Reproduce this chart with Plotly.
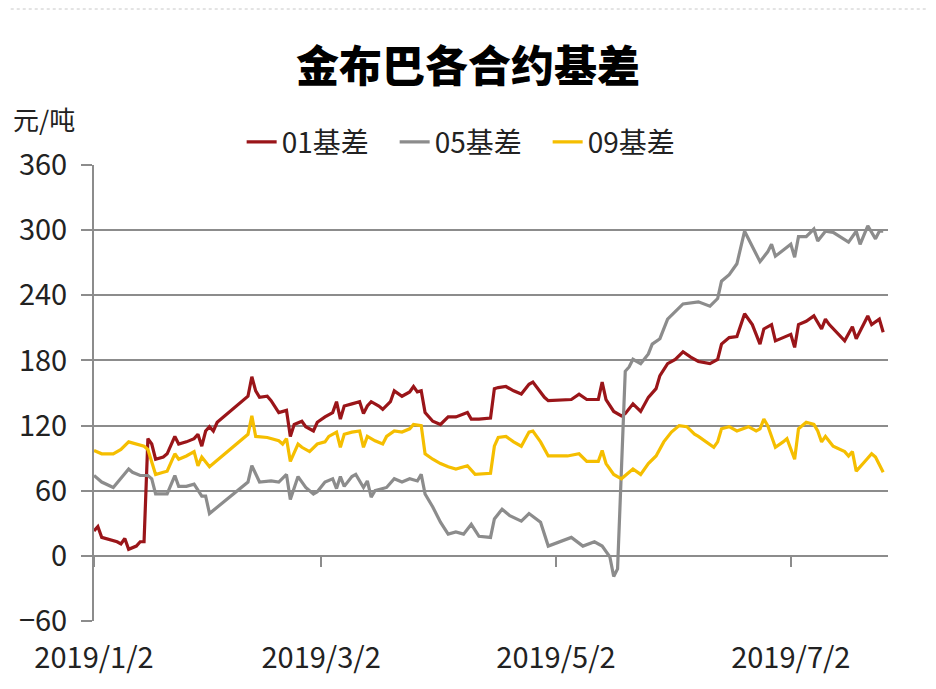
import plotly.graph_objects as go

TITLE = "金布巴各合约基差"
UNIT = "元/吨"
NAMES = ["01基差", "05基差", "09基差"]
COLORS = ["#9A1519", "#8C8C8C", "#F5BE00"]

DATES_01 = ["2019-01-02","2019-01-03","2019-01-04","2019-01-07","2019-01-08","2019-01-09","2019-01-10","2019-01-11",
            "2019-01-13","2019-01-14","2019-01-15","2019-01-16","2019-01-17","2019-01-18","2019-01-20","2019-01-21",
            "2019-01-23","2019-01-24","2019-01-26","2019-01-28","2019-01-29","2019-01-30","2019-01-31","2019-02-01",
            "2019-02-02","2019-02-03","2019-02-11","2019-02-12","2019-02-13","2019-02-14","2019-02-16","2019-02-17",
            "2019-02-19","2019-02-21","2019-02-22","2019-02-23","2019-02-25","2019-02-26","2019-02-28","2019-03-01",
            "2019-03-03","2019-03-05","2019-03-06","2019-03-07","2019-03-08","2019-03-10","2019-03-12","2019-03-13",
            "2019-03-14","2019-03-15","2019-03-17","2019-03-18","2019-03-20","2019-03-21","2019-03-23","2019-03-25",
            "2019-03-26","2019-03-27","2019-03-28","2019-03-29","2019-03-31","2019-04-02","2019-04-04","2019-04-06",
            "2019-04-09","2019-04-10","2019-04-12","2019-04-15","2019-04-16","2019-04-17","2019-04-19","2019-04-21",
            "2019-04-23","2019-04-25","2019-04-26","2019-04-29","2019-04-30","2019-05-06","2019-05-08","2019-05-10",
            "2019-05-13","2019-05-14","2019-05-15","2019-05-17","2019-05-19","2019-05-20","2019-05-22","2019-05-24",
            "2019-05-26","2019-05-28","2019-05-29","2019-05-31","2019-06-02","2019-06-04","2019-06-06","2019-06-08",
            "2019-06-11","2019-06-13","2019-06-14","2019-06-16","2019-06-18","2019-06-20","2019-06-22","2019-06-24",
            "2019-06-25","2019-06-27","2019-06-28","2019-06-30","2019-07-02","2019-07-03","2019-07-04","2019-07-06",
            "2019-07-08","2019-07-10","2019-07-11","2019-07-12","2019-07-14","2019-07-16","2019-07-18","2019-07-19",
            "2019-07-22","2019-07-23","2019-07-25","2019-07-26"]
BASIS_01 = [23,27,17,14,13,11,16,6,
            9,13,13,108,103,89,91,94,
            110,103,105,108,112,101,115,119,
            115,123,147,165,152,146,147,143,
            132,134,110,121,124,119,115,123,
            128,132,142,126,138,140,142,131,
            138,142,138,135,142,152,147,151,
            156,151,152,132,124,121,128,128,
            132,126,126,127,154,155,156,152,
            149,158,160,146,143,144,149,144,
            144,160,144,133,129,131,140,133,
            146,154,166,177,181,188,183,179,
            177,181,195,201,202,223,213,195,
            209,213,198,201,204,192,213,216,
            221,209,218,213,206,198,211,200,
            221,213,218,206]

DATES_05 = ["2019-01-02","2019-01-04","2019-01-07","2019-01-09","2019-01-11","2019-01-12","2019-01-14","2019-01-16",
            "2019-01-17","2019-01-18","2019-01-20","2019-01-21","2019-01-23","2019-01-24","2019-01-26","2019-01-28",
            "2019-01-30","2019-01-31","2019-02-01","2019-02-11","2019-02-12","2019-02-14","2019-02-17","2019-02-19",
            "2019-02-21","2019-02-22","2019-02-24","2019-02-26","2019-02-28","2019-03-01","2019-03-03","2019-03-05",
            "2019-03-06","2019-03-07","2019-03-08","2019-03-10","2019-03-11","2019-03-13","2019-03-14","2019-03-15",
            "2019-03-16","2019-03-18","2019-03-19","2019-03-21","2019-03-23","2019-03-25","2019-03-27","2019-03-28",
            "2019-03-29","2019-03-31","2019-04-02","2019-04-04","2019-04-06","2019-04-08","2019-04-10","2019-04-12",
            "2019-04-15","2019-04-16","2019-04-18","2019-04-20","2019-04-23","2019-04-25","2019-04-28","2019-04-30",
            "2019-05-03","2019-05-06","2019-05-09","2019-05-12","2019-05-14","2019-05-16","2019-05-17","2019-05-18",
            "2019-05-20","2019-05-21","2019-05-22","2019-05-24","2019-05-26","2019-05-27","2019-05-29","2019-05-31",
            "2019-06-04","2019-06-08","2019-06-11","2019-06-13","2019-06-14","2019-06-16","2019-06-18","2019-06-20",
            "2019-06-24","2019-06-26","2019-06-27","2019-06-28","2019-07-02","2019-07-03","2019-07-04","2019-07-06",
            "2019-07-08","2019-07-09","2019-07-11","2019-07-13","2019-07-17","2019-07-19","2019-07-20","2019-07-22",
            "2019-07-24","2019-07-25","2019-07-26"]
BASIS_05 = [74,68,63,71,80,77,74,74,
            71,57,57,57,74,64,64,66,
            55,55,39,68,83,68,69,68,
            75,52,73,63,57,59,68,71,
            62,73,64,73,75,63,69,54,
            60,62,63,71,68,71,69,75,
            57,45,31,20,22,20,29,18,
            17,34,43,37,32,39,31,9,
            13,17,9,13,9,-1,-19,-12,
            170,174,181,177,186,195,200,218,
            232,234,230,237,253,259,269,299,
            271,280,287,276,287,275,294,294,
            301,290,299,298,289,299,287,304,
            292,299,299]

DATES_09 = ["2019-01-02","2019-01-04","2019-01-07","2019-01-09","2019-01-11","2019-01-13","2019-01-15","2019-01-16",
            "2019-01-18","2019-01-20","2019-01-21","2019-01-23","2019-01-24","2019-01-26","2019-01-28","2019-01-29",
            "2019-01-30","2019-02-01","2019-02-11","2019-02-12","2019-02-13","2019-02-16","2019-02-19","2019-02-20",
            "2019-02-21","2019-02-22","2019-02-24","2019-02-25","2019-02-27","2019-03-01","2019-03-03","2019-03-04",
            "2019-03-06","2019-03-07","2019-03-08","2019-03-10","2019-03-12","2019-03-13","2019-03-14","2019-03-16",
            "2019-03-18","2019-03-19","2019-03-21","2019-03-23","2019-03-25","2019-03-26","2019-03-28","2019-03-29",
            "2019-03-31","2019-04-02","2019-04-04","2019-04-06","2019-04-09","2019-04-11","2019-04-15","2019-04-16",
            "2019-04-17","2019-04-19","2019-04-21","2019-04-23","2019-04-25","2019-04-26","2019-04-28","2019-04-30",
            "2019-05-05","2019-05-08","2019-05-10","2019-05-13","2019-05-14","2019-05-15","2019-05-17","2019-05-19",
            "2019-05-20","2019-05-22","2019-05-24","2019-05-26","2019-05-28","2019-05-30","2019-06-01","2019-06-03",
            "2019-06-05","2019-06-07","2019-06-08","2019-06-12","2019-06-13","2019-06-14","2019-06-16","2019-06-18",
            "2019-06-21","2019-06-23","2019-06-24","2019-06-25","2019-06-26","2019-06-28","2019-06-30","2019-07-01",
            "2019-07-03","2019-07-04","2019-07-06","2019-07-08","2019-07-09","2019-07-10","2019-07-11","2019-07-13",
            "2019-07-16","2019-07-17","2019-07-18","2019-07-19","2019-07-21","2019-07-23","2019-07-24","2019-07-26"]
BASIS_09 = [97,94,94,98,105,103,101,98,
            75,77,78,94,89,92,96,83,
            91,82,112,129,110,109,106,103,
            108,87,103,100,96,103,105,110,
            114,100,112,114,115,100,110,106,
            103,110,115,114,117,121,120,94,
            89,85,82,80,83,75,76,101,
            109,110,105,101,114,115,105,92,
            92,94,87,87,97,85,75,71,
            74,80,75,85,92,105,114,120,
            119,112,110,100,105,117,119,115,
            119,115,117,126,120,100,105,108,
            89,117,123,121,115,105,110,101,
            96,92,96,78,86,94,91,77]

TICK_DATES = ["2019-01-02", "2019-03-02", "2019-05-02", "2019-07-02"]
TICK_TEXT = ["2019/1/2", "2019/3/2", "2019/5/2", "2019/7/2"]
Y_TICKS = [-60, 0, 60, 120, 180, 240, 300, 360]
X_RANGE = ["2019-01-02", "2019-07-27 06:00"]

NUM_FONT = "Liberation Sans Narrow, Noto Sans CJK SC, sans-serif"
CJK_FONT = "Noto Sans CJK SC, sans-serif"
GRID = "#8C8C8C"

W, H = 928, 681

fig = go.Figure()
series = [(DATES_01, BASIS_01), (DATES_05, BASIS_05), (DATES_09, BASIS_09)]
for (dx, dy), name, color in zip(series, NAMES, COLORS):
    fig.add_trace(go.Scatter(x=dx, y=dy, name=name, mode="lines",
                             line=dict(color=color, width=3.2)))

# helper trace to materialise the tick axis crossing at zero
fig.add_trace(go.Scatter(x=DATES_01[:1], y=BASIS_01[:1], xaxis="x2", mode="lines",
                         showlegend=False, hoverinfo="skip", line=dict(width=0)))

fig.update_layout(
    width=W, height=H,
    paper_bgcolor="white", plot_bgcolor="white",
    margin=dict(l=86, r=48, t=157, b=68),
    title=dict(text=TITLE, x=460 / W, xref="container", xanchor="center",
               y=1 - 59 / H, yanchor="middle",
               font=dict(family=CJK_FONT, size=43, color="#000000", weight=900)),
    legend=dict(orientation="h", x=0.475, xanchor="center", y=1.05, yanchor="middle",
                font=dict(family=NUM_FONT, size=28, color="#222222"),
                entrywidth=108, entrywidthmode="pixels",
                itemwidth=30, tracegroupgap=0, bgcolor="rgba(0,0,0,0)"),
    showlegend=True,
    xaxis=dict(type="date", range=X_RANGE, tickvals=TICK_DATES, ticktext=TICK_TEXT,
               showgrid=False, showline=False, zeroline=False, ticks="",
               ticklabelstandoff=17,
               tickfont=dict(family=NUM_FONT, size=29, color="#222222")),
    xaxis2=dict(type="date", matches="x", overlaying="x", anchor="free",
                position=1 / 7, tickvals=TICK_DATES, showticklabels=False,
                showgrid=False, showline=False, zeroline=False,
                ticks="outside", ticklen=10, tickwidth=2, tickcolor=GRID),
    yaxis=dict(range=[-60, 360], tickvals=Y_TICKS, showgrid=True, gridcolor=GRID,
               gridwidth=2, zeroline=False, showline=True, linecolor=GRID, linewidth=2,
               ticks="outside", ticklen=11, tickwidth=2, tickcolor=GRID,
               ticklabelstandoff=8,
               tickfont=dict(family=NUM_FONT, size=29, color="#222222")),
    annotations=[dict(text=UNIT, x=-0.0625, y=1.103, xref="paper", yref="paper",
                      xanchor="center", yanchor="middle", showarrow=False,
                      font=dict(family=CJK_FONT, size=26, color="#222222"))],
    shapes=[dict(type="line", xref="paper", yref="paper", x0=-0.12, x1=1.06,
                 y0=1 + 156 / 456, y1=1 + 156 / 456,
                 line=dict(color="#C8C8C8", width=1, dash="dot"))],
)

fig.write_html("out.html")
